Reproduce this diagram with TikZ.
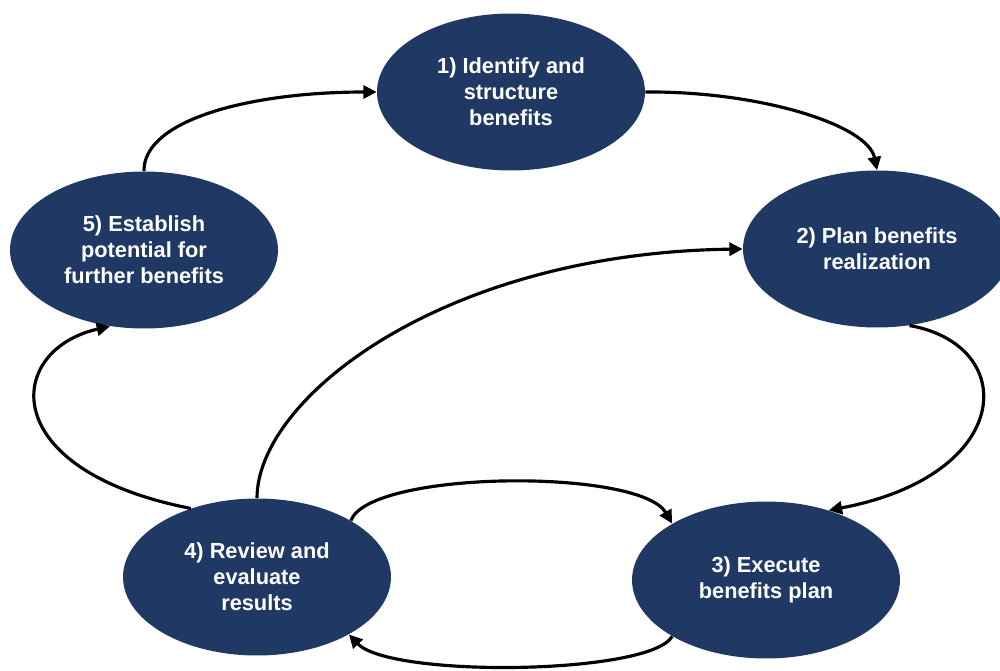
\documentclass[tikz,border=0pt]{standalone}
\usepackage{fontspec}
\setmainfont{Liberation Sans}
\usetikzlibrary{arrows.meta,shapes.geometric}
\definecolor{stagefill}{RGB}{32,56,100}
\begin{document}
\begin{tikzpicture}[x=0.02cm,y=-0.02cm,
  stage/.style={ellipse, fill=stagefill, draw=none, inner sep=0pt,
    minimum width=5.36cm, minimum height=3.14cm, text=white, align=center,
    font=\fontsize{12.4}{14.8}\selectfont\bfseries},
  flow/.style={line width=1.8pt, draw=black,
    -{Triangle[length=7.6pt,width=7.4pt]}}]
\useasboundingbox (0,0) rectangle (1000,670);

% the five stages of the cycle
\node[stage] (s1) at (511,92)  {1) Identify and\\structure\\benefits};
\node[stage] (s2) at (877,249) {2) Plan benefits\\realization};
\node[stage] (s3) at (766,580) {3) Execute\\benefits plan};
\node[stage] (s4) at (257,577) {4) Review and\\evaluate\\results};
\node[stage] (s5) at (144,250) {5) Establish\\potential for\\further benefits};

% connectors between stages
\draw[flow] (s1.east) .. controls (760,91) and (868,125) .. (s2.north);
\draw[flow] (s2.-67) .. controls (1020,345) and (1015,475) .. (s3.48);
\draw[flow] (s3.211) .. controls (650,675) and (390,678) .. (s4.-32);
\draw[flow] (s4.31) .. controls (370,470) and (640,468) .. (s3.149);
\draw[flow] (s4.north) .. controls (257,398) and (443,253) .. (s2.180);
\draw[flow] (s4.134) .. controls (-5,470) and (5,350) .. (s5.246);
\draw[flow] (s5.north) .. controls (143,120) and (250,92) .. (s1.west);
\end{tikzpicture}
\end{document}
